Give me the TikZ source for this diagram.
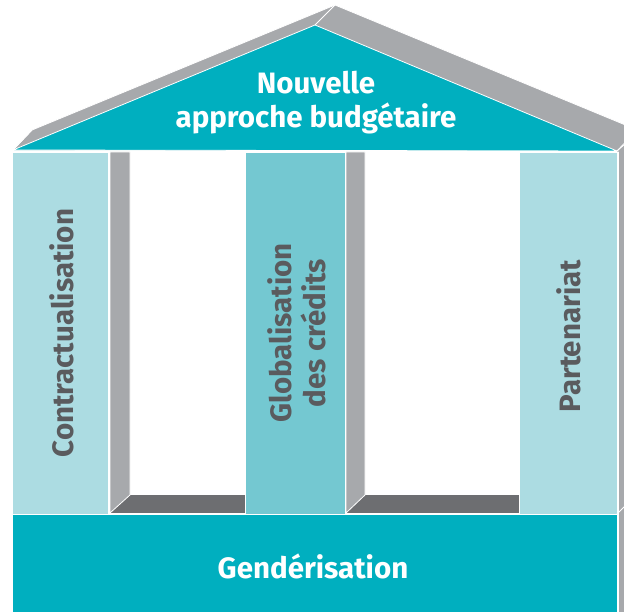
\documentclass[tikz,border=0pt]{standalone}
\usepackage{fontspec}
\setmainfont{Fira Sans}
\definecolor{teal1}{HTML}{00AFBF}
\definecolor{lightp}{HTML}{ACDCE2}
\definecolor{midp}{HTML}{74C8D1}
\definecolor{grayl}{HTML}{A7A9AC}
\definecolor{grayd}{HTML}{6D6E71}
\definecolor{txtg}{HTML}{5A5B5E}
\tikzset{
  edge/.style={draw=white,line width=0.8pt},
  whitetxt/.style={text=white,font=\fontsize{29.5}{34}\selectfont\bfseries,align=center,inner sep=0pt},
  pillartxt/.style={text=txtg,font=\fontsize{29.5}{34}\selectfont\bfseries,align=center,inner sep=0pt,rotate=90}
}
\begin{document}
\begin{tikzpicture}[x=1pt,y=-1pt]
\useasboundingbox (0,0) rectangle (624,612);
\begin{scope}
\clip (0,0) rectangle (624,612);
% right gray side
\fill[grayl] (617,151) -- (640,127) -- (640,612) -- (617,612) -- cycle;
% roof back
\fill[grayl,edge] (13,150) -- (32,130) -- (335,5) -- (640,131) -- (617,151) -- cycle;
% pediment
\fill[teal1,edge] (13,150) -- (315,25) -- (617,151) -- cycle;
\draw[edge] (315,25) -- (335,5);
\draw[edge] (13,150) -- (32,130);
\draw[edge] (617,151) -- (636,131);
% floors
\fill[grayd] (110,495) rectangle (245,513);
\fill[grayd] (346,495) rectangle (519,513);
% pillar sides
\fill[grayl,edge] (110,152) -- (130,152) -- (130,495) -- (110,513) -- cycle;
\fill[grayl,edge] (346,152) -- (365,152) -- (365,495) -- (346,513) -- cycle;
\draw[edge] (618,152) -- (618,612);
% pillars
\fill[lightp,edge] (12,152) rectangle (108,514);
\fill[midp,edge] (245,152) rectangle (345,515);
\fill[lightp,edge] (519,152) rectangle (617,514);
% base
\fill[teal1,edge] (12,514) rectangle (617,614);
\draw[edge] (617,514) -- (636,495);
\end{scope}
\node[whitetxt] (roof) at (316,103) {Nouvelle\\approche budgétaire};
\node[whitetxt] (base) at (313,566) {Gendérisation};
\node[pillartxt] (p1) at (62,333) {Contractualisation};
\node[pillartxt] (p2) at (297,333) {Globalisation\\des crédits};
\node[pillartxt] (p3) at (569,336) {Partenariat};
\end{tikzpicture}
\end{document}
